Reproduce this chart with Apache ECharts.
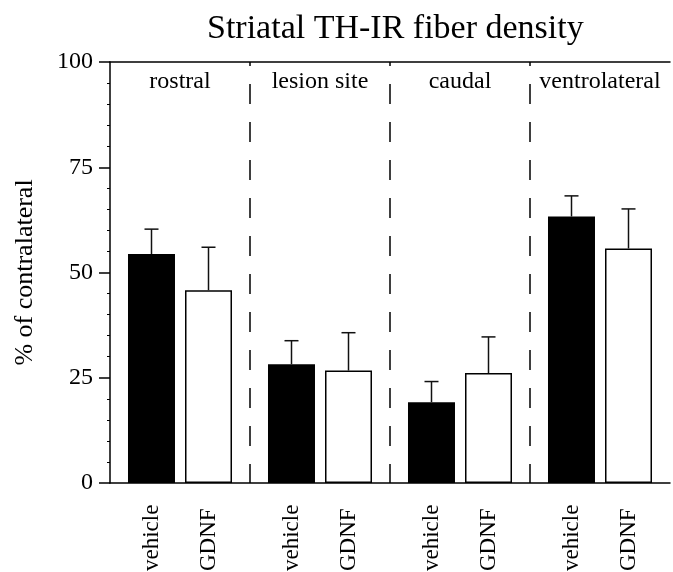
<!DOCTYPE html>
<html>
<head>
<meta charset="utf-8">
<script src="https://cdn.jsdelivr.net/npm/echarts@6/dist/echarts.min.js"></script>
<style>
  html, body { margin: 0; padding: 0; background: #fff; }
  #chart { width: 673px; height: 572px; }
</style>
</head>
<body>
<div id="chart"></div>
<script>
// values (% of contralateral, mean and mean + error)
const regions = ['rostral', 'lesion site', 'caudal', 'ventrolateral'];
const vehicleMean = [54.4, 28.2, 19.2, 63.3];
const vehicleUpper = [60.3, 33.8, 24.1, 68.2];
const gdnfMean = [45.8, 26.7, 26.1, 55.7];
const gdnfUpper = [56.0, 35.7, 34.7, 65.1];
const yTicks = [0, 25, 50, 75, 100];

const serif = "'Liberation Serif', 'DejaVu Serif', serif";
const barWidth = 47;
const barGapPx = 10;

const chart = echarts.init(document.getElementById('chart'));

// error bars (upper half only), drawn next to the bars through the axis scales
function errorBars(means, uppers, offset) {
    return {
        type: 'custom',
        data: means.map((m, i) => [i, m, uppers[i]]),
        encode: { x: 0, y: [1, 2] },
        z: 3,
        renderItem: function (params, api) {
            const base = api.coord([api.value(0), api.value(1)]);
            const top = api.coord([api.value(0), api.value(2)]);
            const x = base[0] + offset;
            const st = { stroke: '#111', lineWidth: 1.5 };
            return {
                type: 'group',
                children: [
                    { type: 'line', shape: { x1: x, y1: base[1], x2: x, y2: top[1] }, style: st },
                    { type: 'line', shape: { x1: x - 7, y1: top[1], x2: x + 7, y2: top[1] }, style: st }
                ]
            };
        }
    };
}

const barLabel = {
    show: true,
    position: 'bottom',
    distance: 88,
    rotate: 90,
    align: 'left',
    verticalAlign: 'middle',
    formatter: '{a}',
    fontFamily: serif,
    fontSize: 23,
    color: '#000'
};

const option = {
    backgroundColor: '#fff',
    animation: false,
    title: {
        text: 'Striatal TH-IR fiber density',
        left: 202,
        top: 7,
        textStyle: { fontFamily: serif, fontSize: 34, fontWeight: 'normal', color: '#000' }
    },
    grid: { left: 110, top: 62, width: 560, height: 421 },
    xAxis: [{
        type: 'category',
        data: regions,
        axisLine: { onZero: false, lineStyle: { color: '#000', width: 1.5 } },
        axisTick: { show: false },
        axisLabel: { show: false },
        splitLine: {
            show: true,
            showMinLine: false,
            showMaxLine: false,
            lineStyle: { color: '#000', width: 1.5, type: [20, 18], dashOffset: 16 }
        }
    }, {
        type: 'category',
        data: regions,
        position: 'top',
        axisLine: { onZero: false, lineStyle: { color: '#000', width: 1.5 } },
        axisTick: { show: false },
        axisLabel: { inside: true, interval: 0, margin: 8, fontFamily: serif, fontSize: 24, color: '#000' }
    }],
    yAxis: {
        type: 'value',
        min: yTicks[0],
        max: yTicks[yTicks.length - 1],
        interval: yTicks[1] - yTicks[0],
        name: '% of contralateral',
        nameLocation: 'middle',
        nameGap: 72,
        nameTextStyle: { fontFamily: serif, fontSize: 26, color: '#000' },
        axisLine: { show: true, lineStyle: { color: '#000', width: 1.5 } },
        axisTick: { show: true, length: 11, lineStyle: { color: '#000', width: 1.5 } },
        minorTick: { show: true, splitNumber: 5, length: 3, lineStyle: { color: '#000', width: 1 } },
        axisLabel: { margin: 17, fontFamily: serif, fontSize: 24, color: '#000' },
        splitLine: { show: false }
    },
    series: [{
        name: 'vehicle',
        type: 'bar',
        data: vehicleMean,
        barWidth: barWidth,
        barGap: (barGapPx / barWidth * 100).toFixed(1) + '%',
        itemStyle: { color: '#000' },
        label: barLabel
    }, {
        name: 'GDNF',
        type: 'bar',
        data: gdnfMean,
        barWidth: barWidth,
        itemStyle: { color: '#fff', borderColor: '#000', borderWidth: 1.5 },
        label: barLabel
    },
    errorBars(vehicleMean, vehicleUpper, -(barWidth + barGapPx) / 2),
    errorBars(gdnfMean, gdnfUpper, (barWidth + barGapPx) / 2)]
};

chart.setOption(option);
</script>
</body>
</html>
